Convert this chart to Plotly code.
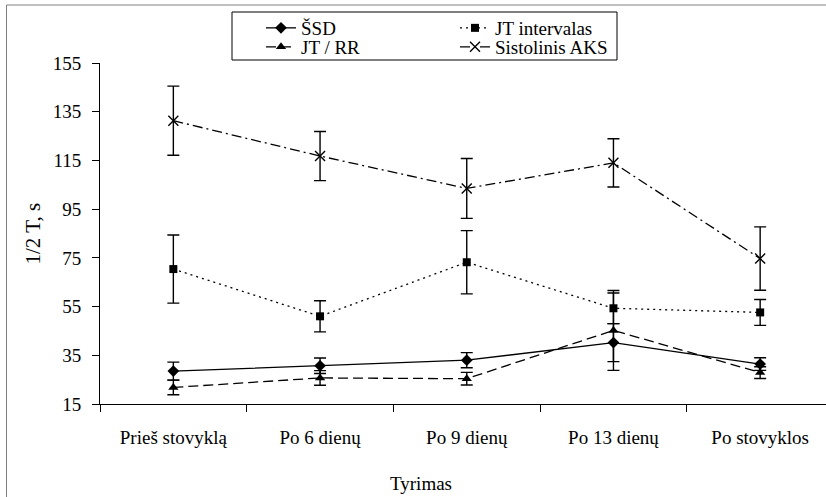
import plotly.graph_objects as go

categories = ["Prieš stovyklą", "Po 6 dienų", "Po 9 dienų", "Po 13 dienų", "Po stovyklos"]

ssd = [28.5, 30.7, 33.0, 40.2, 31.4]
ssd_err = [3.7, 3.2, 3.1, 7.8, 2.6]

jt_int = [70.4, 51.0, 73.2, 54.3, 52.6]
jt_int_err = [14.0, 6.4, 13.0, 6.3, 5.3]

jt_rr = [21.8, 25.7, 25.4, 45.2, 27.9]
jt_rr_err = [3.0, 3.0, 2.6, 16.4, 2.4]

aks = [131.3, 116.8, 103.5, 114.0, 74.7]
aks_err = [14.2, 10.1, 12.3, 9.9, 13.0]

series_names = ["ŠSD", "JT intervalas", "JT / RR", "Sistolinis AKS"]
y_ticks = [15, 35, 55, 75, 95, 115, 135, 155]

FONT = "Liberation Serif, Times New Roman, serif"
W, H = 826, 497
PL, PT, PB = 100, 63, 93
PR = 0
plot_w = W - PL - PR
plot_h = H - PT - PB


def px_x(px):
    return (px - PL) / plot_w


def px_y(py):
    return (H - PB - py) / plot_h


fig = go.Figure()

styles = [
    (ssd, ssd_err, "solid", dict(symbol="diamond", size=9), "legend"),
    (jt_int, jt_int_err, "2px,4px", dict(symbol="square", size=8), "legend2"),
    (jt_rr, jt_rr_err, "10px,5px", dict(symbol="triangle-up", size=9), "legend3"),
    (aks, aks_err, "10px,4px,2px,4px", dict(symbol="x-thin", size=10, line=dict(width=1.4, color="black")), "legend4"),
]

for name, (vals, errs, dash, marker, leg) in zip(series_names, styles):
    fig.add_trace(go.Scatter(
        x=categories, y=vals, name=name, mode="lines+markers",
        line=dict(color="black", width=1.3, dash=dash),
        marker=dict(color="black", **marker),
        error_y=dict(type="data", array=errs, color="black", thickness=1.4, width=6),
        legend=leg,
    ))

leg_common = dict(
    xanchor="left", yanchor="middle", bgcolor="rgba(0,0,0,0)", borderwidth=0,
    font=dict(family=FONT, size=19, color="black"),
)
text_x = [301, 495, 301, 495]
row_y = [28, 28, 47, 47]
legs = {}
for i, key in enumerate(["legend", "legend2", "legend3", "legend4"]):
    legs[key] = dict(x=px_x(text_x[i] - 40), y=px_y(row_y[i]), **leg_common)

fig.update_layout(
    width=W, height=H,
    margin=dict(l=PL, r=PR, t=PT, b=PB, autoexpand=False),
    paper_bgcolor="white", plot_bgcolor="white",
    font=dict(family=FONT, size=19, color="black"),
    showlegend=True,
    **legs,
    xaxis=dict(
        type="category", range=[-0.5, -0.5 + plot_w / 146.7],
        showline=True, linecolor="black", linewidth=1,
        ticks="outside", tickson="boundaries", ticklen=7, tickcolor="black",
        showgrid=False, zeroline=False, ticklabelstandoff=16,
        tickfont=dict(family=FONT, size=19, color="black"),
    ),
    yaxis=dict(
        range=[15, 155], tickvals=y_ticks,
        showline=True, linecolor="black", linewidth=1,
        ticks="outside", ticklen=7, tickcolor="black",
        showgrid=False, zeroline=False, ticklabelstandoff=7,
        tickfont=dict(family=FONT, size=19, color="black"),
    ),
    shapes=[
        dict(type="line", xref="paper", yref="paper",
             x0=px_x(6.5), x1=px_x(6.5), y0=px_y(H + 5), y1=px_y(5),
             line=dict(color="#808080", width=1), layer="below"),
        dict(type="line", xref="paper", yref="paper",
             x0=px_x(6.5), x1=px_x(W + 5), y0=px_y(5), y1=px_y(5),
             line=dict(color="#808080", width=1), layer="below"),
        dict(type="rect", xref="paper", yref="paper",
             x0=px_x(232), x1=px_x(617), y0=px_y(60), y1=px_y(12),
             line=dict(color="black", width=1), fillcolor="white", layer="below"),
    ],
    annotations=[
        dict(text="1/2 T, s", xref="paper", yref="paper", x=px_x(32), y=0.5,
             xanchor="center", yanchor="middle", textangle=-90, showarrow=False,
             font=dict(family=FONT, size=21, color="black")),
        dict(text="Tyrimas", xref="paper", yref="paper", x=px_x(421), y=px_y(483),
             xanchor="center", yanchor="middle", showarrow=False,
             font=dict(family=FONT, size=19, color="black")),
    ],
)

fig.write_html("out.html", config={"displayModeBar": False},
               post_script="document.body.style.margin='0';")
